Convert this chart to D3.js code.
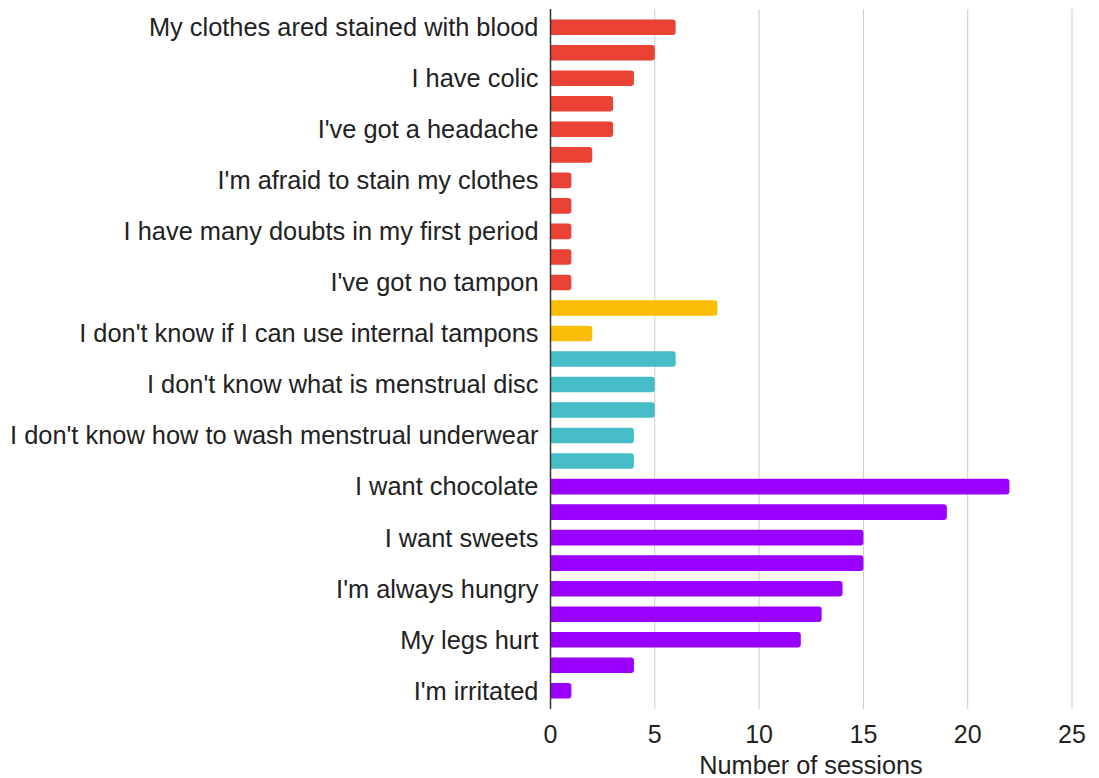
<!DOCTYPE html>
<html>
<head>
<meta charset="utf-8">
<script src="https://cdn.jsdelivr.net/npm/d3@7"></script>
<style>
  html, body { margin: 0; padding: 0; background: #fff; }
  svg text { font-family: Arial, "Liberation Sans", sans-serif; }
</style>
</head>
<body>
<div id="chart"></div>
<script>
// only every other category name is printed on the axis in the original
const categories = [
    "My clothes ared stained with blood", "",
    "I have colic", "",
    "I've got a headache", "",
    "I'm afraid to stain my clothes", "",
    "I have many doubts in my first period", "",
    "I've got no tampon", "",
    "I don't know if I can use internal tampons", "",
    "I don't know what is menstrual disc", "",
    "I don't know how to wash menstrual underwear", "",
    "I want chocolate", "",
    "I want sweets", "",
    "I'm always hungry", "",
    "My legs hurt", "",
    "I'm irritated"
];
const sessions = [6, 5, 4, 3, 3, 2, 1, 1, 1, 1, 1, 8, 2, 6, 5, 5, 4, 4, 22, 19, 15, 15, 14, 13, 12, 4, 1];
const groups = ["red", "red", "red", "red", "red", "red", "red", "red", "red", "red", "red",
    "yellow", "yellow", "teal", "teal", "teal", "teal", "teal",
    "purple", "purple", "purple", "purple", "purple", "purple", "purple", "purple", "purple"];
const xTicks = [0, 5, 10, 15, 20, 25];
const xTitle = "Number of sessions";

const colors = {red: "#ea4335", yellow: "#fbbc04", teal: "#46bdc6", purple: "#9900ff"};

const width = 1099, height = 778;
const margin = {top: 9, right: 27, bottom: 69, left: 550.5};

const svg = d3.select("#chart").append("svg")
    .attr("width", width)
    .attr("height", height);

const x = d3.scaleLinear()
    .domain([0, 25])
    .range([margin.left, width - margin.right]);

const y = d3.scaleBand()
    .domain(d3.range(categories.length))
    .range([margin.top, height - margin.bottom])
    .paddingInner(0.39)
    .paddingOuter(0.41);

// gridlines
svg.append("g")
    .selectAll("line")
    .data(xTicks.filter(d => d > 0))
    .join("line")
    .attr("x1", d => x(d)).attr("x2", d => x(d))
    .attr("y1", margin.top).attr("y2", height - margin.bottom)
    .style("stroke", "#cccccc")
    .style("stroke-width", 1);

// bars, rounded on the right end
const r = 3;
function barPath(i){
    let x0 = x(0), x1 = x(sessions[i]);
    let y0 = y(i), h = y.bandwidth();
    let rr = Math.min(r, (x1 - x0) / 2);
    return `M${x0},${y0}H${x1 - rr}Q${x1},${y0} ${x1},${y0 + rr}V${y0 + h - rr}Q${x1},${y0 + h} ${x1 - rr},${y0 + h}H${x0}Z`;
}
svg.append("g")
    .selectAll("path")
    .data(d3.range(sessions.length))
    .join("path")
    .attr("d", barPath)
    .style("fill", i => colors[groups[i]]);

// y axis line
svg.append("line")
    .attr("x1", x(0)).attr("x2", x(0))
    .attr("y1", margin.top).attr("y2", height - margin.bottom)
    .style("stroke", "#333333")
    .style("stroke-width", 1.5);

// category labels
svg.append("g")
    .selectAll("text")
    .data(d3.range(categories.length).filter(i => categories[i] !== ""))
    .join("text")
    .attr("x", x(0) - 12)
    .attr("y", i => y(i) + y.bandwidth() / 2)
    .attr("dy", "0.35em")
    .attr("text-anchor", "end")
    .style("font-size", "25.4px")
    .style("fill", "#222222")
    .text(i => categories[i]);

// x tick labels
svg.append("g")
    .selectAll("text")
    .data(xTicks)
    .join("text")
    .attr("x", d => x(d))
    .attr("y", 743)
    .attr("text-anchor", "middle")
    .style("font-size", "25px")
    .style("fill", "#222222")
    .text(d => d);

svg.append("text")
    .attr("x", 811)
    .attr("y", 774)
    .attr("text-anchor", "middle")
    .style("font-size", "25.3px")
    .style("fill", "#222222")
    .text(xTitle);
</script>
</body>
</html>
